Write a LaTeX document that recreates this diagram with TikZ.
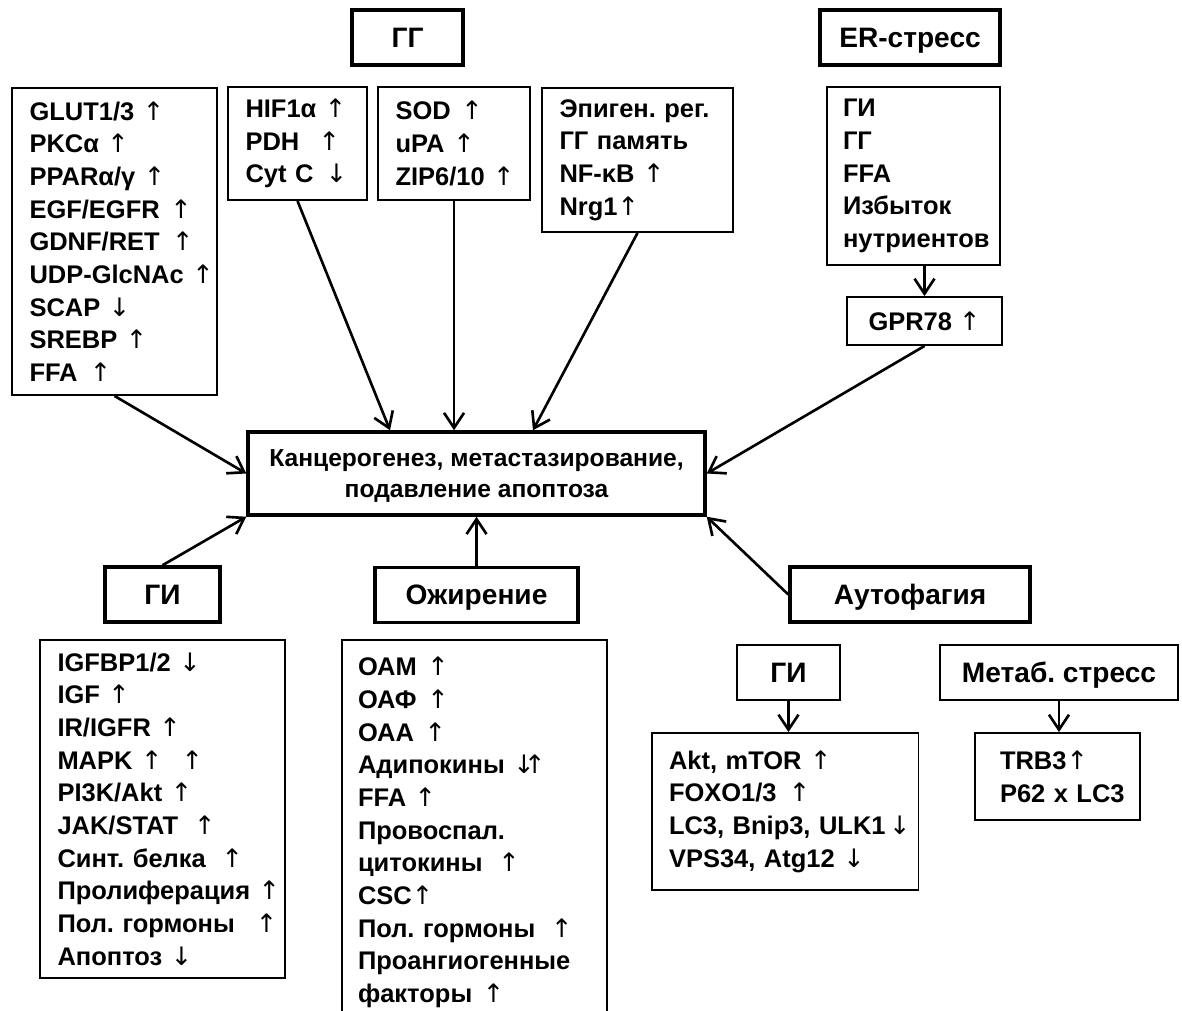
\documentclass[tikz,border=0pt]{standalone}
\usepackage{fontspec}
\setmainfont{Liberation Sans}
\newfontfamily\arrfont{DejaVu Sans}
\usetikzlibrary{arrows.meta, positioning, calc}
\frenchspacing

\newcommand{\arrUp}{{\arrfont\mdseries ↑}}
\newcommand{\arrDn}{{\arrfont\mdseries ↓}}

\begin{document}
\begin{tikzpicture}[x=0.02cm, y=-0.02cm,
    hdr/.style={draw, line width=2pt, inner sep=0pt, align=center, text depth=0pt,
        font=\fontsize{16}{19}\selectfont\bfseries},
    sub/.style={hdr, line width=1.3pt},
    tag/.style={draw, line width=1.1pt, inner sep=0pt,
        font=\fontsize{14.5}{18.6}\selectfont\bfseries},
    lst/.style={draw, line width=1.1pt, inner xsep=0pt, inner ysep=0pt, align=left,
        execute at begin node={\leftskip=3.5mm},
        font=\fontsize{14.5}{18.6}\selectfont\bfseries},
    arrow/.style={-{Straight Barb[length=3mm, width=4mm]}, line width=1.5pt}
]
    \useasboundingbox (0,0) rectangle (1182,1010);
    \clip (0,0) rectangle (1182,1010);

    % Central box
    \node[hdr, minimum width=91.4mm, minimum height=16.6mm,
        font=\fontsize{14}{17.5}\selectfont\bfseries] (main) at (476.5,473.5)
        {Канцерогенез, метастазирование,\\подавление апоптоза};

    % Top headers
    \node[hdr, minimum width=22.2mm, minimum height=11mm] (gg) at (407.5,37.5) {ГГ};
    \node[hdr, minimum width=36mm, minimum height=11mm] (er) at (910,37.5) {ER-стресс};

    % Top lists
    \node[lst, text width=41mm, minimum height=61.4mm] (glut) at (114.5,241.5)
        {GLUT1/3 \arrUp\\PKCα \arrUp\\PPARα/γ \arrUp\\EGF/EGFR\hspace{6pt}\arrUp\\
         GDNF/RET\hspace{7pt}\arrUp\\UDP-GlcNAc \arrUp\\SCAP \arrDn\\SREBP \arrUp\\
         FFA\hspace{7pt}\arrUp};
    \node[lst, text width=27.8mm, minimum height=22.6mm] (hif) at (297.5,143.5)
        {HIF1α \arrUp\\PDH\hspace{11pt}\arrUp\\Cyt C\hspace{7pt}\arrDn};
    \node[lst, text width=30.4mm, minimum height=22.6mm] (sod) at (454,143.5)
        {SOD\hspace{6pt}\arrUp\\uPA\hspace{5pt}\arrUp\\ZIP6/10 \arrUp};
    \node[lst, text width=38.2mm, minimum height=28.8mm] (epi) at (637.5,160)
        {Эпиген. рег.\\ГГ память\\NF-κB \arrUp\\Nrg1\arrUp};
    \node[lst, text width=34.6mm, minimum height=35.6mm,
        execute at begin node={\leftskip=3.2mm}] (erl) at (913.5,176)
        {ГИ\\ГГ\\FFA\\Избыток\\нутриентов};
    \node[tag, minimum width=31mm, minimum height=9.6mm] (gpr) at (924.5,321)
        {GPR78 \arrUp};

    % Bottom headers
    \node[hdr, minimum width=23mm, minimum height=11mm] (gi) at (162.5,594.5) {ГИ};
    \node[hdr, minimum width=40.6mm, minimum height=11mm] (ob) at (476.5,595) {Ожирение};
    \node[hdr, minimum width=48mm, minimum height=11mm] (au) at (910,594.5) {Аутофагия};
    \node[sub, minimum width=20.6mm, minimum height=11mm] (giau) at (788.5,672.5) {ГИ};
    \node[sub, minimum width=47.6mm, minimum height=11mm] (mt) at (1059,672.5) {Метаб. стресс};

    % Bottom lists
    \node[lst, text width=49mm, minimum height=67.6mm] (igf) at (162.5,809)
        {IGFBP1/2 \arrDn\\IGF \arrUp\\IR/IGFR \arrUp\\MAPK \arrUp\hspace{11pt}\arrUp\\
         PI3K/Akt \arrUp\\JAK/STAT\hspace{9pt}\arrUp\\Синт. белка\hspace{9pt}\arrUp\\
         Пролиферация \arrUp\\Пол. гормоны\hspace{12pt}\arrUp\\Апоптоз \arrDn};
    \node[lst, text width=53mm, minimum height=77mm,
        execute at begin node={\leftskip=3.2mm}] (obl) at (474.5,832.5)
        {ОАМ\hspace{6pt}\arrUp\\ОАФ\hspace{6pt}\arrUp\\ОАА\hspace{6pt}\arrUp\\
         Адипокины \arrDn\hspace{-6pt}\arrUp\\FFA \arrUp\\Провоспал.\\
         цитокины\hspace{9pt}\arrUp\\CSC\arrUp\\Пол. гормоны\hspace{9pt}\arrUp\\
         Проангиогенные\\факторы\hspace{6pt}\arrUp};
    \node[lst, text width=53.4mm, minimum height=31.4mm] (akt) at (785,811.5)
        {Akt, mTOR \arrUp\\FOXO1/3\hspace{7pt}\arrUp\\LC3, Bnip3, ULK1\hspace{2pt}\arrDn\\
         VPS34, Atg12\hspace{5pt}\arrDn};
    \node[lst, text width=33mm, minimum height=17.4mm,
        execute at begin node={\leftskip=5mm}] (trb) at (1057.5,776.5)
        {TRB3\arrUp\\P62 x LC3};

    % Connectors
    \draw[arrow] (glut.south) -- (main.west);
    \draw[arrow] (hif.south) -- ([xshift=-17.3mm]main.north);
    \draw[arrow] (sod.south) -- (sod.south |- main.north);
    \draw[arrow] (epi.south) -- ([xshift=11.3mm]main.north);
    \draw[arrow] (gpr.north |- erl.south) -- (gpr.north);
    \draw[arrow] (gpr.south) -- (main.east);
    \draw[arrow] (gi.north) -- (main.south west);
    \draw[arrow] (ob.north) -- (main.south);
    \draw[arrow] (au.west) -- (main.south east);
    \draw[arrow] (giau.south) -- (giau.south |- akt.north);
    \draw[arrow] (mt.south) -- (mt.south |- trb.north);
\end{tikzpicture}
\end{document}
